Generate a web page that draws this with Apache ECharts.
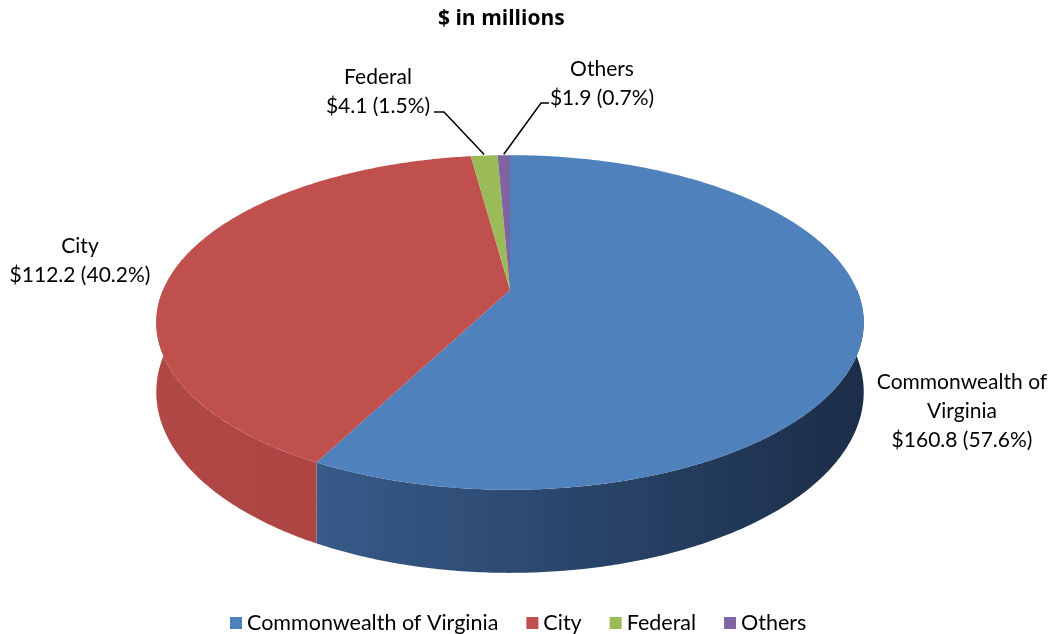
<!DOCTYPE html>
<html>
<head>
<meta charset="utf-8">
<script src="https://cdn.jsdelivr.net/npm/echarts@6/dist/echarts.min.js"></script>
<style>
  html, body { margin: 0; padding: 0; background: #fff; }
  #chart { width: 1064px; height: 634px; }
</style>
</head>
<body>
<div id="chart"></div>
<script>
// data
const categories = ['Commonwealth of Virginia', 'City', 'Federal', 'Others'];
const values = [160.8, 112.2, 4.1, 1.9];
const labelNames = ['Commonwealth of\nVirginia', 'City', 'Federal', 'Others'];

// look
const colors = ['#4F81BD', '#C0504D', '#9BBB59', '#8064A2'];
const sideColors = [
  ['#3f679c', '#1b2d48'],
  ['#b04845', '#9f3e3b'],
  ['#819e4a', '#718c40'],
  ['#69538c', '#59467a']
];
// label anchors (top of first line) and leader line starts
const labelPos = [[962, 368], [80, 232], [378, 63], [602, 55]];
const leaderStart = [null, null, [[434, 112], [444, 112]], [[549, 103], [541, 103]]];
const FONT = 'Lato, "Open Sans", sans-serif';

// fake 3D pie geometry (no echarts-gl here)
const CX = 510, CY = 290, RX = 347, RY = 161, DEPTH = 67, PERSP = 0.194;
const total = values.reduce((a, b) => a + b, 0);

function proj(theta, h) {
  const s = 1 / (1 + PERSP * Math.cos(theta));
  return [CX + RX * Math.sin(theta) * s, CY + (-RY * Math.cos(theta) + h) * s];
}

function arcPoints(a0, a1, h) {
  const pts = [];
  const n = Math.max(2, Math.ceil((a1 - a0) / 0.01));
  for (let k = 0; k <= n; k++) pts.push(proj(a0 + (a1 - a0) * k / n, h));
  return pts;
}

function sliceAngles(i) {
  let start = 0;
  for (let k = 0; k < i; k++) start += values[k];
  return [start / total * Math.PI * 2, (start + values[i]) / total * Math.PI * 2];
}

function renderSlice(i) {
  return function (params, api) {
    const [a0, a1] = sliceAngles(i);
    const children = [];

    // front wall, only the part that faces us
    const w0 = Math.max(a0, Math.PI / 2), w1 = Math.min(a1, Math.PI * 1.5);
    if (w1 > w0) {
      const top = arcPoints(w0, w1, 0);
      const bottom = arcPoints(w0, w1, DEPTH).reverse();
      children.push({
        type: 'polygon',
        z2: 1,
        shape: { points: top.concat(bottom) },
        style: {
          fill: new echarts.graphic.LinearGradient(160, 0, 870, 0, [
            { offset: 0, color: sideColors[i][0] },
            { offset: 1, color: sideColors[i][1] }
          ], true)
        }
      });
    }

    // top face
    children.push({
      type: 'polygon',
      z2: 5,
      shape: { points: [[CX, CY]].concat(arcPoints(a0, a1, 0)) },
      style: { fill: colors[i] }
    });

    // label
    const pct = (values[i] / total * 100).toFixed(1);
    children.push({
      type: 'text',
      z2: 10,
      x: labelPos[i][0],
      y: labelPos[i][1],
      style: {
        text: labelNames[i] + '\n$' + values[i].toFixed(1) + ' (' + pct + '%)',
        font: '21px ' + FONT,
        lineHeight: 29,
        fill: '#000',
        align: 'center',
        verticalAlign: 'top'
      }
    });

    // leader line for the thin slices
    if (leaderStart[i]) {
      const end = proj((a0 + a1) / 2, 0);
      children.push({
        type: 'polyline',
        z2: 10,
        shape: { points: leaderStart[i].concat([[end[0], end[1] - 1]]) },
        style: { stroke: '#000', lineWidth: 1.5, fill: null }
      });
    }

    return { type: 'group', children: children };
  };
}

const myChart = echarts.init(document.getElementById('chart'));
myChart.setOption({
  animation: false,
  title: {
    text: '$ in millions',
    left: 433,
    top: 4,
    textStyle: { fontSize: 21, fontWeight: 'bold', color: '#000', fontFamily: '"Open Sans", sans-serif' }
  },
  legend: {
    data: categories,
    top: 607,
    left: 225,
    icon: 'rect',
    itemWidth: 12,
    itemHeight: 12,
    itemGap: 28,
    selectedMode: false,
    textStyle: { fontSize: 21.5, color: '#000', fontFamily: FONT }
  },
  series: categories.map((name, i) => ({
    type: 'custom',
    name: name,
    coordinateSystem: 'none',
    itemStyle: { color: colors[i] },
    data: [[values[i]]],
    renderItem: renderSlice(i)
  }))
});
</script>
</body>
</html>
